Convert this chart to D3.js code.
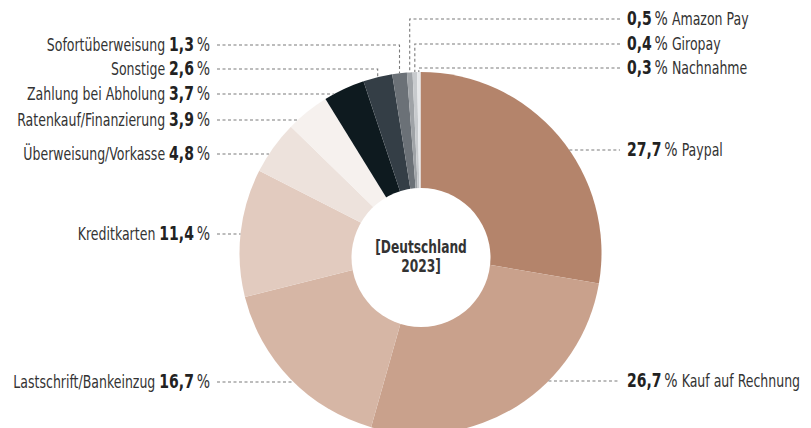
<!DOCTYPE html>
<html>
<head>
<meta charset="utf-8">
<script src="https://cdn.jsdelivr.net/npm/d3@7"></script>
<style>
  html, body { margin: 0; padding: 0; background: #fff; overflow: hidden; }
  svg { display: block; }
  text { font-family: "DejaVu Sans Condensed", "DejaVu Sans", sans-serif; }
</style>
</head>
<body>
<svg id="chart" width="811" height="428"></svg>
<script>
// ---- data ----
const categories = ["Paypal", "Kauf auf Rechnung", "Lastschrift/Bankeinzug", "Kreditkarten",
  "Überweisung/Vorkasse", "Ratenkauf/Finanzierung", "Zahlung bei Abholung", "Sonstige",
  "Sofortüberweisung", "Amazon Pay", "Giropay", "Nachnahme"];
const values = [27.7, 26.7, 16.7, 11.4, 4.8, 3.9, 3.7, 2.6, 1.3, 0.5, 0.4, 0.3];
const valueLabels = ["27,7", "26,7", "16,7", "11,4", "4,8", "3,9", "3,7", "2,6", "1,3", "0,5", "0,4", "0,3"];
const centerLabel = ["[Deutschland", "2023]"];

// ---- styles / layout (kept apart from data) ----
const colors = ["#b4846b", "#c9a18c", "#d6b6a5", "#e2cbbf", "#ede2dc", "#f6f1ee",
  "#0e1a1f", "#343e46", "#6b7177", "#9fa3a7", "#c7cacd", "#e6e8ea"];
const labelSide = ["right", "right", "left", "left", "left", "left", "left", "left", "left", "right", "right", "right"];
const labelY = [150, 381, 382, 234, 154, 120, 94, 69, 45, 19, 44, 68];
const elbow = [false, false, false, false, false, false, false, true, true, true, true, true];

const W = 811, H = 428;
const cx = 420.5, cy = 253, R = 181;
const holeCx = 421, holeCy = 257.5, holeR = 69.5;
const leftTextX = 210, leftLineX = 217, rightTextX = 627, rightLineX = 620;
const squeeze = 0.82;

const svg = d3.select("#chart");

const data = categories.map((c, i) => ({
  name: c, value: values[i], label: valueLabels[i],
  color: colors[i], side: labelSide[i], y: labelY[i], elbow: elbow[i]
}));

const pie = d3.pie().value(d => d.value).sort(null);
const arc = d3.arc().innerRadius(0).outerRadius(R);
const arcs = pie(data);

const g = svg.append("g").attr("transform", `translate(${cx},${cy})`);
g.selectAll("path.slice").data(arcs).join("path")
  .attr("class", "slice")
  .attr("d", arc)
  .attr("fill", d => d.data.color);

// center hole
svg.append("circle").attr("cx", holeCx).attr("cy", holeCy).attr("r", holeR).attr("fill", "#fff");

const ct = svg.append("g").attr("transform", `translate(${holeCx},0) scale(0.8,1)`)
  .append("text").attr("text-anchor", "middle")
  .attr("fill", "#333").attr("font-weight", "bold").attr("font-size", 17);
ct.selectAll("tspan").data(centerLabel).join("tspan")
  .attr("x", 0).attr("y", (d, i) => 253 + i * 19).text(d => d);

// leader lines
const lines = svg.append("g").attr("fill", "none").attr("stroke", "#7a7a7a")
  .attr("stroke-width", 1.1).attr("stroke-dasharray", "3,2.5");

arcs.forEach(a => {
  const d = a.data;
  const y = d.y;
  let pts;
  if (d.elbow) {
    const mid = (a.startAngle + a.endAngle) / 2;
    const px = cx + R * Math.sin(mid);
    const py = cy - R * Math.cos(mid);
    const endX = d.side === "left" ? leftLineX : rightLineX;
    pts = [[endX, y], [px, y], [px, py]];
  } else {
    const dy = y - cy;
    const dx = Math.sqrt(Math.max(0, R * R - dy * dy));
    if (d.side === "left") pts = [[leftLineX, y], [cx - dx, y]];
    else pts = [[cx + dx, y], [rightLineX, y]];
  }
  lines.append("path").attr("d", d3.line()(pts));
});

// labels
const labels = svg.append("g");
data.forEach(d => {
  const x0 = d.side === "left" ? leftTextX : rightTextX;
  const t = labels.append("g")
    .attr("transform", `translate(${x0},${d.y + 6}) scale(${squeeze},1)`)
    .append("text").attr("x", 0).attr("y", 0);
  if (d.side === "left") {
    t.attr("text-anchor", "end");
    t.append("tspan").attr("font-size", 17).attr("fill", "#333").text(d.name + " ");
    t.append("tspan").attr("font-size", 19).attr("font-weight", "bold").attr("fill", "#222").text(d.label);
    t.append("tspan").attr("font-size", 19).attr("fill", "#333").text("\u2009%");
  } else {
    t.attr("text-anchor", "start");
    t.append("tspan").attr("font-size", 19).attr("font-weight", "bold").attr("fill", "#222").text(d.label);
    t.append("tspan").attr("font-size", 19).attr("fill", "#333").text("\u2009%");
    t.append("tspan").attr("font-size", 17).attr("fill", "#333").text(" " + d.name);
  }
});
</script>
</body>
</html>
